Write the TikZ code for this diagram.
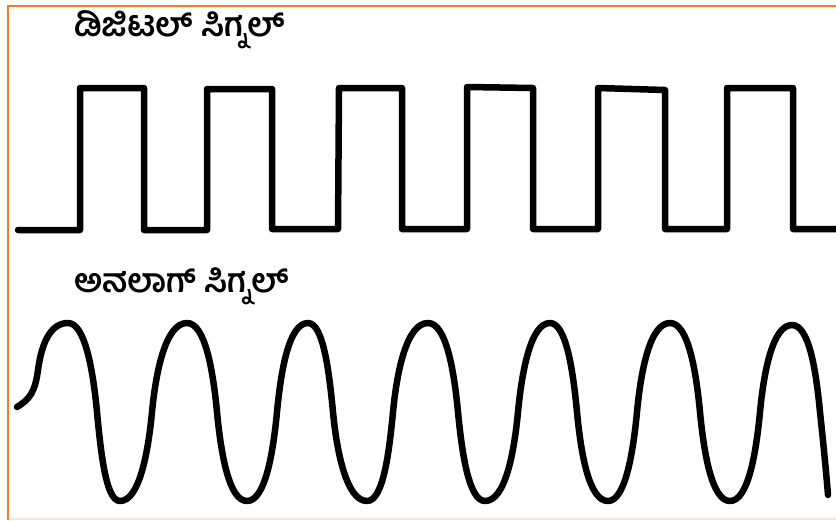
\documentclass[tikz,border=0pt]{standalone}
\usepackage{fontspec}
\newfontfamily\knfont[Script=Kannada]{Hind Mysuru}
\definecolor{frameorange}{RGB}{244,123,38}
\definecolor{framepale}{RGB}{250,228,218}
\tikzset{
  sig/.style={line width=6.5pt, line join=round, line cap=round, black},
  title/.style={anchor=west, inner sep=0pt, font=\knfont\bfseries\fontsize{33}{38}\selectfont},
}
\begin{document}
\begin{tikzpicture}[x=1pt, y=-1pt]
\useasboundingbox (0,0) rectangle (836,520);
\fill[white] (0,0) rectangle (836,520);
% frame
\draw[framepale, line width=1.5pt] (8,519) -- (836,519);
\draw[frameorange, line width=2.2pt] (8,520) -- (8,6) -- (837,6);
% titles
\node[title] (dig) at (74,30) {ಡಿಜಿಟಲ್ ಸಿಗ್ನಲ್};
\node[title] (ana) at (74,286) {ಅನಲಾಗ್ ಸಿಗ್ನಲ್};
% digital signal
\draw[sig] (18,230) -- (80,230) -- (80,88) -- (144,88) -- (144,230) -- (207,230)
  -- (207,89) -- (272,89) -- (272,229) -- (338,229) -- (339,88) -- (402,88)
  -- (402,229) -- (467,229) -- (467,87) -- (533,88) -- (533,229) -- (598,229)
  -- (598,88) -- (665,90) -- (665,229) -- (727,229) -- (727,88) -- (793,88)
  -- (793,229) -- (845,229);
% analog signal
\draw[sig] (17,407) .. controls (30,399) and (35,392) .. (38,370)
  .. controls (42,340) and (52,323) .. (68,323)
  .. controls (85,323) and (93,370) .. (97,412)
  .. controls (101,454) and (106,501) .. (120,501)
  .. controls (139,501) and (148,454) .. (152,412)
  .. controls (156,370) and (166,323) .. (187,323)
  .. controls (205,323) and (213,370) .. (217,412)
  .. controls (221,454) and (229,501) .. (247,501)
  .. controls (265,501) and (273,454) .. (277,412)
  .. controls (281,370) and (289,323) .. (308,323)
  .. controls (323,323) and (329,370) .. (333,412)
  .. controls (337,454) and (347,501) .. (367,501)
  .. controls (383,501) and (389,454) .. (393,412)
  .. controls (397,370) and (407,323) .. (428,323)
  .. controls (446,323) and (454,370) .. (458,412)
  .. controls (462,454) and (469,501) .. (485,501)
  .. controls (505,501) and (514,454) .. (518,412)
  .. controls (522,370) and (531,323) .. (550,323)
  .. controls (566,323) and (573,370) .. (577,412)
  .. controls (581,454) and (589,501) .. (608,501)
  .. controls (625,501) and (633,454) .. (637,412)
  .. controls (641,370) and (650,323) .. (670,323)
  .. controls (688,323) and (696,370) .. (700,412)
  .. controls (704,454) and (712,501) .. (730,501)
  .. controls (748,501) and (756,454) .. (760,412)
  .. controls (764,370) and (773,325) .. (792,325)
  .. controls (809,325) and (816,370) .. (820,412)
  .. controls (823,440) and (826,470) .. (828,495);
\end{tikzpicture}
\end{document}
